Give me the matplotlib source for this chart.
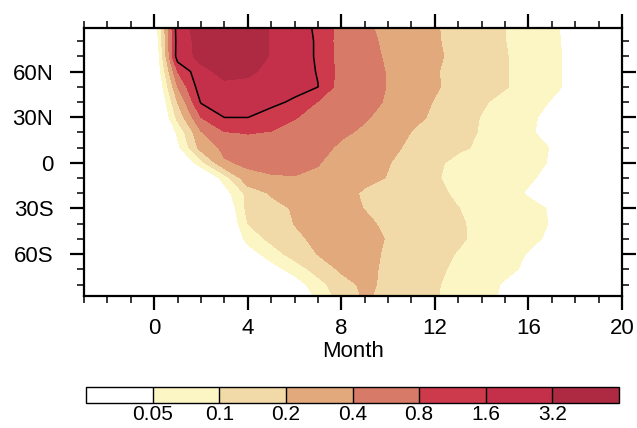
import numpy as np
import matplotlib
matplotlib.use("Agg")
import matplotlib.pyplot as plt

plt.rcParams['font.family'] = ['Liberation Sans', 'DejaVu Sans']

# ---- data ----
months = np.arange(-3, 21)
lats = np.array([90, 80, 70, 60, 50, 40, 30, 20, 10, 0,
                 -10, -20, -30, -40, -50, -60, -70, -80, -90])

row_90 = [0.018, 0.018, 0.018, 0.025, 2.42, 4.22, 5.2, 4.53, 3.09, 2.11, 1.44, 0.606, 0.444, 0.336, 0.264, 0.21, 0.163, 0.127, 0.1, 0.074, 0.055, 0.041, 0.031, 0.025]
row_80 = [0.018, 0.018, 0.018, 0.023, 2.26, 3.94, 4.85, 4.37, 3.09, 2.19, 1.49, 0.566, 0.46, 0.36, 0.283, 0.214, 0.165, 0.128, 0.101, 0.076, 0.056, 0.041, 0.031, 0.025]
row_70 = [0.012, 0.012, 0.012, 0.0165, 2.42, 3.68, 4.37, 4.08, 3.09, 2.19, 1.49, 0.586, 0.476, 0.373, 0.293, 0.222, 0.168, 0.132, 0.104, 0.077, 0.057, 0.042, 0.032, 0.025]
row_60 = [0.012, 0.012, 0.012, 0.018, 0.8, 2.79, 3.68, 3.43, 2.88, 2.11, 1.55, 0.606, 0.51, 0.386, 0.293, 0.21, 0.163, 0.132, 0.105, 0.078, 0.057, 0.042, 0.032, 0.025]
row_50 = [0.012, 0.012, 0.012, 0.0144, 0.4, 2.42, 2.88, 2.88, 2.42, 2.04, 1.62, 0.566, 0.49, 0.392, 0.293, 0.214, 0.163, 0.132, 0.105, 0.078, 0.057, 0.042, 0.032, 0.025]
row_40 = [0.01, 0.01, 0.01, 0.0125, 0.2, 1.71, 2.26, 2.19, 1.9, 1.44, 0.773, 0.606, 0.49, 0.373, 0.264, 0.193, 0.146, 0.109, 0.081, 0.064, 0.048, 0.037, 0.029, 0.023]
row_30 = [0.008, 0.008, 0.008, 0.0102, 0.123, 0.8, 1.62, 1.62, 1.21, 0.828, 0.65, 0.546, 0.429, 0.325, 0.238, 0.18, 0.132, 0.097, 0.073, 0.056, 0.042, 0.032, 0.025, 0.02]
row_20 = [0.008, 0.008, 0.008, 0.0088, 0.057, 0.373, 0.773, 0.828, 0.773, 0.673, 0.566, 0.444, 0.36, 0.273, 0.197, 0.157, 0.123, 0.095, 0.073, 0.054, 0.041, 0.031, 0.024, 0.019]
row_10 = [0.007, 0.007, 0.007, 0.0072, 0.041, 0.264, 0.46, 0.606, 0.65, 0.628, 0.49, 0.36, 0.293, 0.23, 0.18, 0.141, 0.111, 0.09, 0.076, 0.064, 0.048, 0.035, 0.027, 0.02]
row_0 = [0.006, 0.006, 0.006, 0.006, 0.018, 0.076, 0.373, 0.444, 0.49, 0.49, 0.414, 0.314, 0.255, 0.207, 0.152, 0.113, 0.084, 0.071, 0.064, 0.057, 0.048, 0.035, 0.027, 0.02]
row_s10 = [0.006, 0.006, 0.006, 0.006, 0.0082, 0.0165, 0.068, 0.336, 0.373, 0.386, 0.36, 0.303, 0.246, 0.193, 0.146, 0.106, 0.084, 0.073, 0.064, 0.054, 0.042, 0.032, 0.025, 0.019]
row_s20 = [0.006, 0.006, 0.006, 0.006, 0.0072, 0.0102, 0.035, 0.123, 0.214, 0.273, 0.303, 0.264, 0.18, 0.168, 0.141, 0.115, 0.09, 0.073, 0.062, 0.047, 0.037, 0.029, 0.023, 0.018]
row_s30 = [0.006, 0.006, 0.006, 0.006, 0.0067, 0.0082, 0.022, 0.123, 0.157, 0.214, 0.246, 0.238, 0.197, 0.163, 0.141, 0.123, 0.101, 0.084, 0.071, 0.06, 0.047, 0.035, 0.028, 0.022]
row_s40 = [0.006, 0.006, 0.006, 0.006, 0.006, 0.0077, 0.018, 0.1, 0.141, 0.203, 0.23, 0.246, 0.222, 0.18, 0.152, 0.13, 0.107, 0.087, 0.073, 0.061, 0.048, 0.037, 0.029, 0.023]
row_s50 = [0.006, 0.006, 0.006, 0.006, 0.006, 0.0072, 0.0165, 0.064, 0.119, 0.174, 0.23, 0.246, 0.238, 0.193, 0.157, 0.132, 0.107, 0.088, 0.073, 0.057, 0.045, 0.035, 0.028, 0.022]
row_s60 = [0.006, 0.006, 0.006, 0.006, 0.006, 0.006, 0.0109, 0.033, 0.071, 0.132, 0.203, 0.23, 0.23, 0.187, 0.146, 0.115, 0.097, 0.078, 0.064, 0.048, 0.037, 0.029, 0.023, 0.018]
row_s70 = [0.006, 0.006, 0.006, 0.006, 0.006, 0.006, 0.006, 0.0125, 0.035, 0.068, 0.132, 0.222, 0.23, 0.18, 0.141, 0.111, 0.09, 0.073, 0.057, 0.045, 0.035, 0.028, 0.022, 0.018]
row_s80 = [0.006, 0.006, 0.006, 0.006, 0.006, 0.006, 0.006, 0.006, 0.0144, 0.033, 0.076, 0.152, 0.23, 0.174, 0.132, 0.107, 0.081, 0.062, 0.047, 0.035, 0.028, 0.022, 0.018, 0.014]
row_s90 = [0.006, 0.006, 0.006, 0.006, 0.006, 0.006, 0.006, 0.006, 0.0102, 0.025, 0.052, 0.132, 0.214, 0.168, 0.132, 0.104, 0.078, 0.06, 0.045, 0.035, 0.028, 0.022, 0.018, 0.014]

levels = [0.05, 0.1, 0.2, 0.4, 0.8, 1.6, 3.2]
level_labels = ['0.05', '0.1', '0.2', '0.4', '0.8', '1.6', '3.2']
line_level = 1.6

lat_ticks = [60, 30, 0, -30, -60]
lat_labels = ['60N', '30N', '0', '30S', '60S']
month_ticks = [0, 4, 8, 12, 16, 20]

fill_colors = ['#ffffff', '#fcf6c4', '#f1d9a8', '#e2a97c', '#d77b68',
               '#cc3a4c', '#c4304a', '#ad2a42']

# ---- figure ----
field = np.array([row_90, row_80, row_70, row_60, row_50, row_40, row_30,
                  row_20, row_10, row_0, row_s10, row_s20, row_s30, row_s40,
                  row_s50, row_s60, row_s70, row_s80, row_s90])
logf = np.log10(field)
bounds = np.concatenate([[-10.0], np.log10(levels), [10.0]])

fig = plt.figure(figsize=(6.37, 4.28), dpi=100)
ax = fig.add_axes([84 / 637, 1 - 295.7 / 428, 538 / 637, 268 / 428])

cf = ax.contourf(months, lats, logf, levels=bounds, colors=fill_colors)
ax.contour(months, lats, logf, levels=[np.log10(line_level)],
           colors='black', linewidths=1.1)

ax.set_xlim(-3, 20)
ax.set_ylim(-87.3, 88.8)
ax.set_xticks(month_ticks)
ax.set_xticks(np.arange(-3, 21, 1), minor=True)
ax.set_yticks(lat_ticks)
ax.set_yticklabels(lat_labels)
ax.set_yticks(np.arange(-80, 90, 10), minor=True)
ax.tick_params(which='both', direction='out', top=True, right=True,
               labeltop=False, labelright=False)
ax.tick_params(which='major', length=10, width=1.6, labelsize=16, pad=6)
ax.tick_params(axis='y', which='major', pad=12)
ax.tick_params(which='minor', length=5, width=1.1)
for sp in ax.spines.values():
    sp.set_linewidth(1.6)
ax.set_xlabel('Month', fontsize=16)
ax.xaxis.set_label_coords(0.5, -0.208)
ax.xaxis.label.set_va('center')

cax = fig.add_axes([86 / 637, 1 - 403.3 / 428, 533 / 637, 16 / 428])
cb = fig.colorbar(cf, cax=cax, orientation='horizontal', spacing='uniform',
                  drawedges=True, ticks=np.log10(levels))
cb.set_ticklabels(level_labels)
cb.outline.set_linewidth(1.0)
cb.dividers.set_linewidth(1.0)
cax.tick_params(length=0, labelsize=15, pad=1.5)

fig.savefig('out.png', dpi=100)
